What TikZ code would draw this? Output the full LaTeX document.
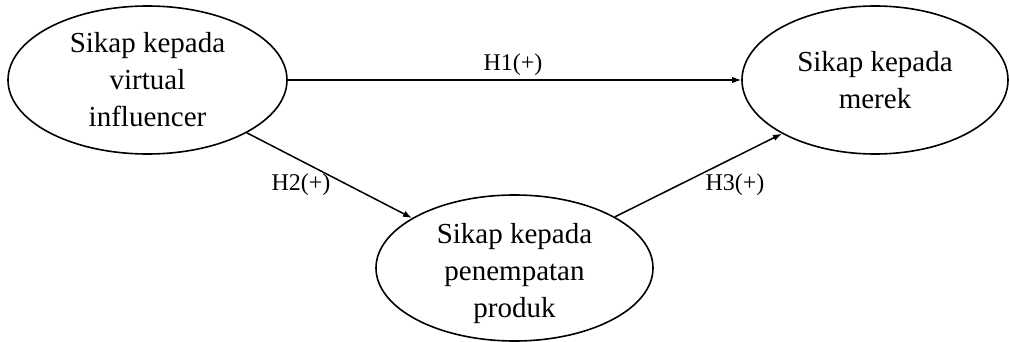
\documentclass[tikz,border=0pt]{standalone}
\usepackage{fontspec}
\setmainfont{Liberation Serif}
\usetikzlibrary{shapes.geometric,arrows.meta}
\begin{document}
\begin{tikzpicture}[x=1pt,y=-1pt,
  construct/.style={draw, ellipse, line width=1.6pt, inner sep=0pt, align=center,
    font=\fontsize{29}{37}\selectfont},
  ctext/.style={inner sep=0pt, align=center, font=\fontsize{29}{37}\selectfont},
  hyp/.style={font=\fontsize{24}{28}\selectfont, inner sep=0pt},
  conn/.style={line width=1.5pt, -{Latex[length=9pt,width=6.5pt]}}]
\useasboundingbox (0,0) rectangle (1009,342);
\node[construct, minimum width=279pt, minimum height=148pt] (L) at (147.5,80) {Sikap kepada\\virtual\\influencer};
\node[construct, minimum width=266pt, minimum height=148pt] (R) at (875,80) {Sikap kepada\\merek};
\node[construct, minimum width=277pt, minimum height=146pt] (B) at (514.5,268) {};
\node[ctext] (Bt) at (514.5,274) {Sikap kepada\\penempatan\\produk};
\draw[conn] (L.east) -- (R.west);
\draw[conn] (L.-28) -- (B.154);
\draw[conn] (B.27) -- (R.210);
\node[hyp] (h1) at (513,65) {H1(+)};
\node[hyp] (h2) at (301,185) {H2(+)};
\node[hyp] (h3) at (735,185) {H3(+)};
\end{tikzpicture}
\end{document}
